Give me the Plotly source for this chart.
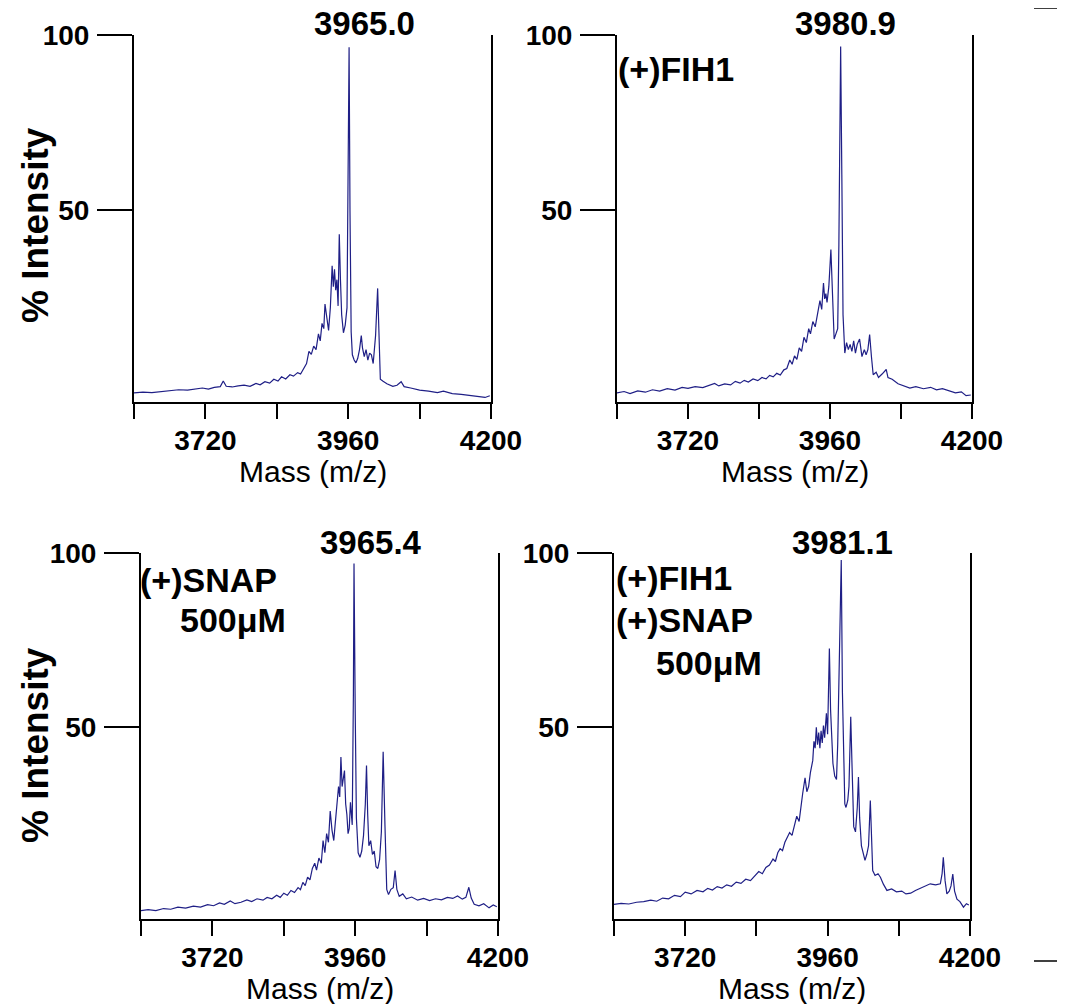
import plotly.graph_objects as go

W, H = 1065, 1004
OFF = 8  # page body margin

# Spectra (m/z, % intensity)
mz_ctrl = [3600, 3615, 3630, 3645, 3660, 3675, 3690, 3705, 3715, 3725, 3735, 3745, 3750, 3755, 3765,
           3775, 3785, 3795, 3805, 3812, 3820, 3828, 3835, 3842, 3848, 3855, 3862, 3868, 3875, 3880,
           3885, 3890, 3894, 3898, 3902, 3906, 3910, 3913, 3916, 3919, 3921, 3924, 3927, 3930, 3933,
           3935, 3937, 3939, 3941, 3943, 3945, 3947, 3949, 3952, 3955, 3958, 3960, 3961.5, 3963, 3965,
           3967, 3970, 3973, 3976, 3979, 3982, 3984, 3987, 3990, 3993, 3996, 3999, 4002, 4006, 4009.5,
           4012, 4014, 4018, 4025, 4035, 4042, 4049, 4054, 4065, 4080, 4095, 4110, 4120, 4135, 4150,
           4165, 4180, 4190, 4198]
int_ctrl = [-2.4, -2.2, -2.3, -2.0, -1.9, -1.5, -1.6, -1.2, -1.0, -1.3, -0.8, -0.6, 1.0, -0.5, -0.7,
            -0.4, -0.2, -0.5, 0.3, -0.1, 0.8, 0.4, 1.5, 1.0, 2.2, 1.6, 2.8, 2.4, 3.4, 3.0,
            4.6, 6.0, 9.5, 8.6, 11.0, 10.0, 14.5, 12.5, 17.5, 16.0, 23.0, 19.5, 15.5, 22.0, 34.0,
            28.0, 33.0, 27.0, 30.0, 22.5, 43.0, 30.0, 20.0, 14.8, 17.0, 22.0, 60.0, 96.5, 50.0, 15.0,
            8.5, 7.0, 6.2, 7.5, 10.0, 14.0, 10.5, 8.0, 10.0, 7.0, 9.0, 8.5, 6.0, 14.0, 27.5,
            10.0, 1.5, 1.0, 0.2, -0.5, -0.2, 0.8, -0.6, -1.0, -1.6, -1.9, -2.3, -1.9, -2.6, -2.8,
            -3.1, -3.3, -3.7, -3.2]

mz_fih = [3600, 3612, 3622, 3635, 3648, 3660, 3672, 3685, 3698, 3710, 3720, 3732, 3745, 3755, 3765,
          3772, 3782, 3792, 3800, 3808, 3815, 3822, 3830, 3838, 3845, 3852, 3858, 3864, 3870, 3876,
          3882, 3887, 3892, 3896, 3900, 3904, 3908, 3912, 3916, 3920, 3924, 3927, 3931, 3935, 3939,
          3943, 3946, 3949, 3951, 3953, 3955, 3958, 3961.5, 3964, 3967, 3970, 3973, 3975, 3977, 3978,
          3980, 3982, 3985, 3988, 3991, 3994, 3997, 4000, 4003, 4006, 4010, 4014, 4018, 4021, 4024,
          4027, 4030, 4033, 4038, 4042, 4048, 4055, 4058, 4065, 4075, 4085, 4095, 4105, 4118, 4130,
          4140, 4150, 4162, 4172, 4182, 4190, 4198]
int_fih = [-2.4, -2.0, -2.6, -1.8, -2.2, -1.5, -1.9, -1.2, -1.6, -0.8, -1.1, -0.6, -0.9, -0.2, 0.3,
           -0.4, 0.2, -0.1, 0.9, 0.4, 1.2, 0.7, 1.6, 1.1, 2.0, 1.6, 2.6, 2.2, 3.2, 2.7,
           4.2, 4.6, 7.0, 5.8, 8.2, 7.2, 10.5, 9.5, 13.5, 12.0, 16.0, 14.5, 18.0, 16.5, 20.0,
           24.0, 21.5, 29.0, 24.5, 26.0, 23.5, 28.0, 38.6, 24.0, 13.0, 14.5, 16.0, 40.0, 75.0, 96.7,
           60.0, 20.0, 9.0, 12.0, 10.0, 11.5, 9.5, 12.5, 9.0, 11.5, 13.0, 8.0, 10.0, 8.5, 10.0,
           14.3, 8.0, 2.8, 3.5, 2.0, 3.0, 4.3, 2.0, 1.5, 0.2, -0.3, -1.0, -0.6, -1.2, -0.8,
           -1.5, -1.2, -1.8, -2.4, -2.1, -3.2, -3.0]

mz_snap = [3600, 3612, 3625, 3638, 3650, 3662, 3675, 3688, 3700, 3712, 3722, 3732, 3740, 3750, 3758,
           3768, 3778, 3786, 3795, 3805, 3812, 3820, 3828, 3834, 3840, 3846, 3852, 3858, 3864, 3868,
           3872, 3876, 3880, 3884, 3888, 3892, 3895, 3899, 3903, 3906, 3909, 3912, 3915, 3918, 3921,
           3924, 3926, 3929, 3932, 3934, 3936, 3938, 3940, 3942, 3944, 3946, 3948, 3950, 3952, 3955,
           3957, 3958, 3960, 3962, 3965, 3968, 3971, 3974, 3977, 3979, 3981, 3983, 3986, 3989, 3992,
           3995, 3998, 4001, 4004, 4007, 4010, 4013, 4016, 4020, 4024, 4027, 4030, 4034, 4040, 4046,
           4055, 4065, 4075, 4085, 4095, 4105, 4115, 4124, 4132, 4140, 4146, 4151, 4155, 4160, 4168,
           4176, 4185, 4192, 4198]
int_snap = [-2.6, -2.3, -2.6, -2.0, -2.2, -1.6, -1.9, -1.3, -1.6, -0.9, -1.2, -0.4, -0.8, 0.2, -0.6,
            -0.2, 0.5, 0.0, 0.8, 0.4, 1.2, 0.8, 1.8, 1.2, 2.4, 1.8, 3.2, 2.6, 4.0, 3.4,
            5.5, 4.6, 7.0, 6.2, 9.5, 11.0, 9.0, 12.5, 11.0, 17.5, 14.0, 19.5, 17.0, 26.0, 20.5,
            17.5, 21.5, 27.0, 33.0, 30.0, 41.5, 33.0, 36.0, 37.6, 28.0, 25.0, 19.5, 21.0, 28.5, 22.0,
            60.0, 97.0, 55.0, 24.0, 14.0, 12.7, 14.5, 19.0, 28.0, 39.0, 25.0, 16.0, 17.5, 13.5, 14.5,
            10.0, 9.5, 12.0, 20.0, 43.0, 22.0, 3.5, 2.0, 3.5, 4.0, 8.9, 3.5, 1.5, 2.2, 0.8,
            1.3, 0.4, 0.9, 0.3, 0.8, 0.5, 1.2, 0.9, 1.6, 0.7, 1.2, 4.1, 1.0, -0.8, -1.2,
            -0.6, -1.8, -1.0, -1.5]

mz_both = [3600, 3612, 3625, 3638, 3650, 3662, 3672, 3682, 3692, 3702, 3712, 3720, 3730, 3740, 3750,
           3758, 3766, 3774, 3782, 3790, 3798, 3806, 3814, 3822, 3830, 3838, 3844, 3850, 3856, 3862,
           3868, 3872, 3876, 3880, 3884, 3888, 3892, 3896, 3900, 3904, 3908, 3912, 3915, 3918, 3922,
           3925, 3928, 3931, 3935, 3937, 3939, 3941, 3943, 3945, 3947, 3949, 3951, 3953, 3955, 3958,
           3960, 3961, 3963, 3965, 3967, 3969, 3972, 3975, 3977, 3979, 3980, 3982, 3983, 3985, 3987,
           3989, 3991, 3994, 3996, 3998, 3999, 4001, 4004, 4007, 4010, 4012, 4014, 4017, 4020, 4023,
           4026, 4029, 4032, 4034, 4036, 4040, 4045, 4049, 4054, 4060, 4068, 4076, 4085, 4092, 4100,
           4108, 4116, 4124, 4133, 4142, 4150, 4153, 4155, 4158, 4161, 4165, 4168, 4171, 4174, 4178,
           4183, 4189, 4194, 4198]
int_both = [-0.8, -0.5, -0.7, -0.2, 0.0, 0.4, 0.1, 1.0, 0.8, 1.8, 1.4, 2.7, 2.2, 3.2, 2.8,
            3.8, 3.3, 4.3, 3.9, 4.8, 4.4, 5.6, 5.2, 6.4, 6.0, 7.4, 8.6, 8.0, 9.8, 10.5,
            12.2, 11.5, 14.0, 15.2, 14.6, 17.0, 18.2, 19.8, 19.0, 22.0, 24.5, 23.0, 28.0, 31.0, 35.5,
            31.5, 33.0, 37.0, 40.5, 46.0, 44.0, 50.0, 45.0, 48.5, 44.0, 49.0, 45.5, 50.5, 47.0, 54.0,
            48.0, 58.0, 72.6, 55.0, 48.0, 39.6, 36.0, 35.0, 45.0, 62.0, 67.0, 85.0, 98.0, 60.0, 42.0,
            28.0, 27.0, 29.0, 33.0, 48.0, 53.0, 40.0, 21.5, 20.0, 27.0, 35.7, 24.0, 16.0, 14.0, 11.8,
            13.5, 16.0, 29.0, 15.0, 8.9, 7.5, 8.0, 7.0, 5.0, 3.2, 3.6, 2.8, 3.0, 2.2, 2.4,
            3.2, 3.8, 4.6, 5.1, 4.8, 5.1, 8.0, 12.7, 6.0, 2.2, 3.0, 4.5, 7.9, 3.0, 0.7,
            0.0, -1.6, -0.6, -1.0]

peak_labels = ["3965.0", "3980.9", "3965.4", "3981.1"]
# condition text per panel, with (x, y) page pixel of each line's left/middle
conditions = [[],
              [("(+)FIH1", 616, 69)],
              [("(+)SNAP", 138, 580), ("500\u03bcM", 178, 620)],
              [("(+)FIH1", 614, 578), ("(+)SNAP", 614, 620), ("500\u03bcM", 654, 663)]]
x_ticks = [3600, 3720, 3840, 3960, 4080, 4200]
x_ticktext = ["", "3720", "", "3960", "", "4200"]
y_ticks = [50, 100]
y_ticktext = ["50", "100"]

FONT = "Liberation Sans, Arial, sans-serif"
LINE = "#1f1f86"


# page pixel -> paper fraction
def px(x):
    return (x - OFF) / W


def py(y):
    return 1 - (y - OFF) / H


fig = go.Figure()

# pixel boxes: left, right, top (y=100), bottom (x axis)
boxes = [(134, 491, 35, 402), (617, 972, 35, 402), (141, 498, 553, 919), (614, 970, 553, 919)]
spectra = [(mz_ctrl, int_ctrl), (mz_fih, int_fih), (mz_snap, int_snap), (mz_both, int_both)]
label_x = [364, 845, 371, 842]

for i, ((mz, inten), box) in enumerate(zip(spectra, boxes)):
    n = "" if i == 0 else str(i + 1)
    l, r, t, b = box
    fig.add_trace(go.Scatter(x=mz, y=inten, mode="lines", line=dict(color=LINE, width=1.2),
                             xaxis="x" + n, yaxis="y" + n, showlegend=False, hoverinfo="skip"))
    fig.update_layout({
        "xaxis" + n: dict(domain=[px(l), px(r)], range=[3600, 4200], anchor="y" + n, automargin=False,
                          showline=True, linecolor="black", linewidth=2, showgrid=False, zeroline=False,
                          ticks="outside", ticklen=15, tickwidth=2, tickcolor="black",
                          tickvals=x_ticks, ticktext=x_ticktext, ticklabelstandoff=-3,
                          tickfont=dict(family=FONT, size=28, color="black", weight="bold")),
        "yaxis" + n: dict(domain=[py(b), py(t)], range=[-5, 100], anchor="x" + n, automargin=False,
                          showline=True, mirror=True, linecolor="black", linewidth=2,
                          showgrid=False, zeroline=False,
                          ticks="outside", ticklen=35, tickwidth=2, tickcolor="black",
                          tickvals=y_ticks, ticktext=y_ticktext, ticklabelstandoff=2,
                          tickfont=dict(family=FONT, size=28, color="black", weight="bold")),
    })
    # axis title below
    fig.add_annotation(text="Mass (m/z)", xref="x" + n + " domain", x=0.5, yref="paper", y=py(b + 69),
                       showarrow=False, xanchor="center", yanchor="middle",
                       font=dict(family=FONT, size=30, color="black"))
    # peak label
    fig.add_annotation(text=peak_labels[i], xref="paper", x=px(label_x[i]), yref="paper", y=py(t - 11),
                       showarrow=False, xanchor="center", yanchor="middle", borderpad=0,
                       font=dict(family=FONT, size=33, color="black", weight="bold"))
    # condition labels
    for txt, cx, cy in conditions[i]:
        fig.add_annotation(text=txt, xref="paper", x=px(cx), yref="paper", y=py(cy),
                           showarrow=False, xanchor="left", yanchor="middle",
                           font=dict(family=FONT, size=34, color="black", weight="bold"))

# y axis titles
for yc in [225, 745]:
    fig.add_annotation(text="% Intensity", xref="paper", x=px(35), yref="paper", y=py(yc),
                       showarrow=False, textangle=-90, xanchor="center", yanchor="middle",
                       font=dict(family=FONT, size=37, color="black", weight="bold"))

# crop marks on the right edge
for yy in [8, 961]:
    fig.add_shape(type="line", xref="paper", yref="paper", x0=px(1034), x1=px(1062), y0=py(yy), y1=py(yy),
                  line=dict(color="black", width=1.5))

fig.update_layout(template="none", width=W, height=H, margin=dict(l=0, r=0, t=0, b=0, pad=0),
                  plot_bgcolor="white", paper_bgcolor="white")

fig.write_html("out.html")
